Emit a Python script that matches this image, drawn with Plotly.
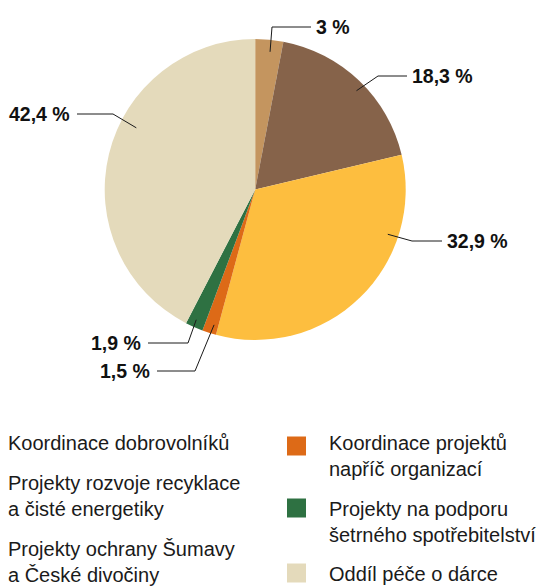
import math
import plotly.graph_objects as go

# ---- data ----
categories = [
    "Koordinace dobrovolníků",
    "Projekty rozvoje recyklace<br>a čisté energetiky",
    "Projekty ochrany Šumavy<br>a České divočiny",
    "Koordinace projektů<br>napříč organizací",
    "Projekty na podporu<br>šetrného spotřebitelství",
    "Oddíl péče o dárce",
]
values = [3.0, 18.3, 32.9, 1.5, 1.9, 42.4]
value_labels = ["3 %", "18,3 %", "32,9 %", "1,5 %", "1,9 %", "42,4 %"]
colors = ["#C4955F", "#86634A", "#FDBE3F", "#DD6A17", "#2E7142", "#E4DABB"]

W, H = 543, 586
CX, CY, R = 255.2, 189.5, 150.5

def px(x):
    return x / W

def py(y):
    return 1 - y / H

fig = go.Figure()
fig.add_trace(go.Pie(
    labels=categories, values=values, sort=False, direction="clockwise",
    rotation=0, marker=dict(colors=colors, line=dict(width=0)),
    textinfo="none", hoverinfo="label+percent", showlegend=False,
    domain=dict(x=[px(CX - R), px(CX + R)], y=[py(CY + R), py(CY - R)]),
))

# leader lines: anchor fraction within slice, radius fraction, elbow, end, label side
leaders = [
    (0.57, 0.92, (272, 27), (311, 27), "right"),
    (0.53, 0.94, (378, 76), (407, 76), "right"),
    (0.27, 0.93, (412, 241), (442, 241), "right"),
    (0.33, 0.94, (195, 371), (157, 371), "left"),
    (0.56, 0.95, (188, 343), (148, 343), "left"),
    (0.59, 0.89, (113, 114), (77, 114), "left"),
]

label_font = dict(family="Liberation Sans, Arial, sans-serif", size=19.5, color="#111")
shapes = []
annotations = []
total = sum(values)
cum = 0.0
for v, lab, (frac, rf, elbow, end, side) in zip(values, value_labels, leaders):
    ang = 2 * math.pi * (cum + frac * v) / total
    cum += v
    ax = CX + rf * R * math.sin(ang)
    ay = CY - rf * R * math.cos(ang)
    path = f"M {px(ax)} {py(ay)} L {px(elbow[0])} {py(elbow[1])} L {px(end[0])} {py(end[1])}"
    shapes.append(dict(type="path", path=path, xref="paper", yref="paper",
                       line=dict(color="#1a1a1a", width=1)))
    annotations.append(dict(
        x=px(end[0] + (3 if side == "right" else -5)), y=py(end[1]),
        xref="paper", yref="paper", text=f"<b>{lab}</b>", showarrow=False,
        xanchor="left" if side == "right" else "right", yanchor="middle",
        font=label_font,
    ))

# legend (left column without swatches, right column with swatches)
legend_font = dict(family="Liberation Sans, Arial, sans-serif", size=20, color="#1a1a1a")
left_items = [(categories[0], 443), (categories[1], 496), (categories[2], 561.5)]
right_items = [(categories[3], 456, colors[3], 446), (categories[4], 522, colors[4], 508),
               (categories[5], 574, colors[5], 573)]
for text, yc in left_items:
    annotations.append(dict(x=px(6), y=py(yc), xref="paper", yref="paper", text=text,
                            showarrow=False, xanchor="left", yanchor="middle", align="left",
                            font=legend_font))
for text, yc, col, sy in right_items:
    annotations.append(dict(x=px(327), y=py(yc), xref="paper", yref="paper", text=text,
                            showarrow=False, xanchor="left", yanchor="middle", align="left",
                            font=legend_font))
    shapes.append(dict(type="rect", xref="paper", yref="paper",
                       x0=px(287), x1=px(306), y0=py(sy + 9.5), y1=py(sy - 9.5),
                       fillcolor=col, line=dict(width=0)))

fig.update_layout(
    width=W, height=H, margin=dict(l=0, r=0, t=0, b=0),
    paper_bgcolor="white", plot_bgcolor="white",
    shapes=shapes, annotations=annotations,
)
fig.write_html("out.html", config={"displayModeBar": False},
               post_script="document.body.style.margin='0';document.body.style.overflow='hidden';")
